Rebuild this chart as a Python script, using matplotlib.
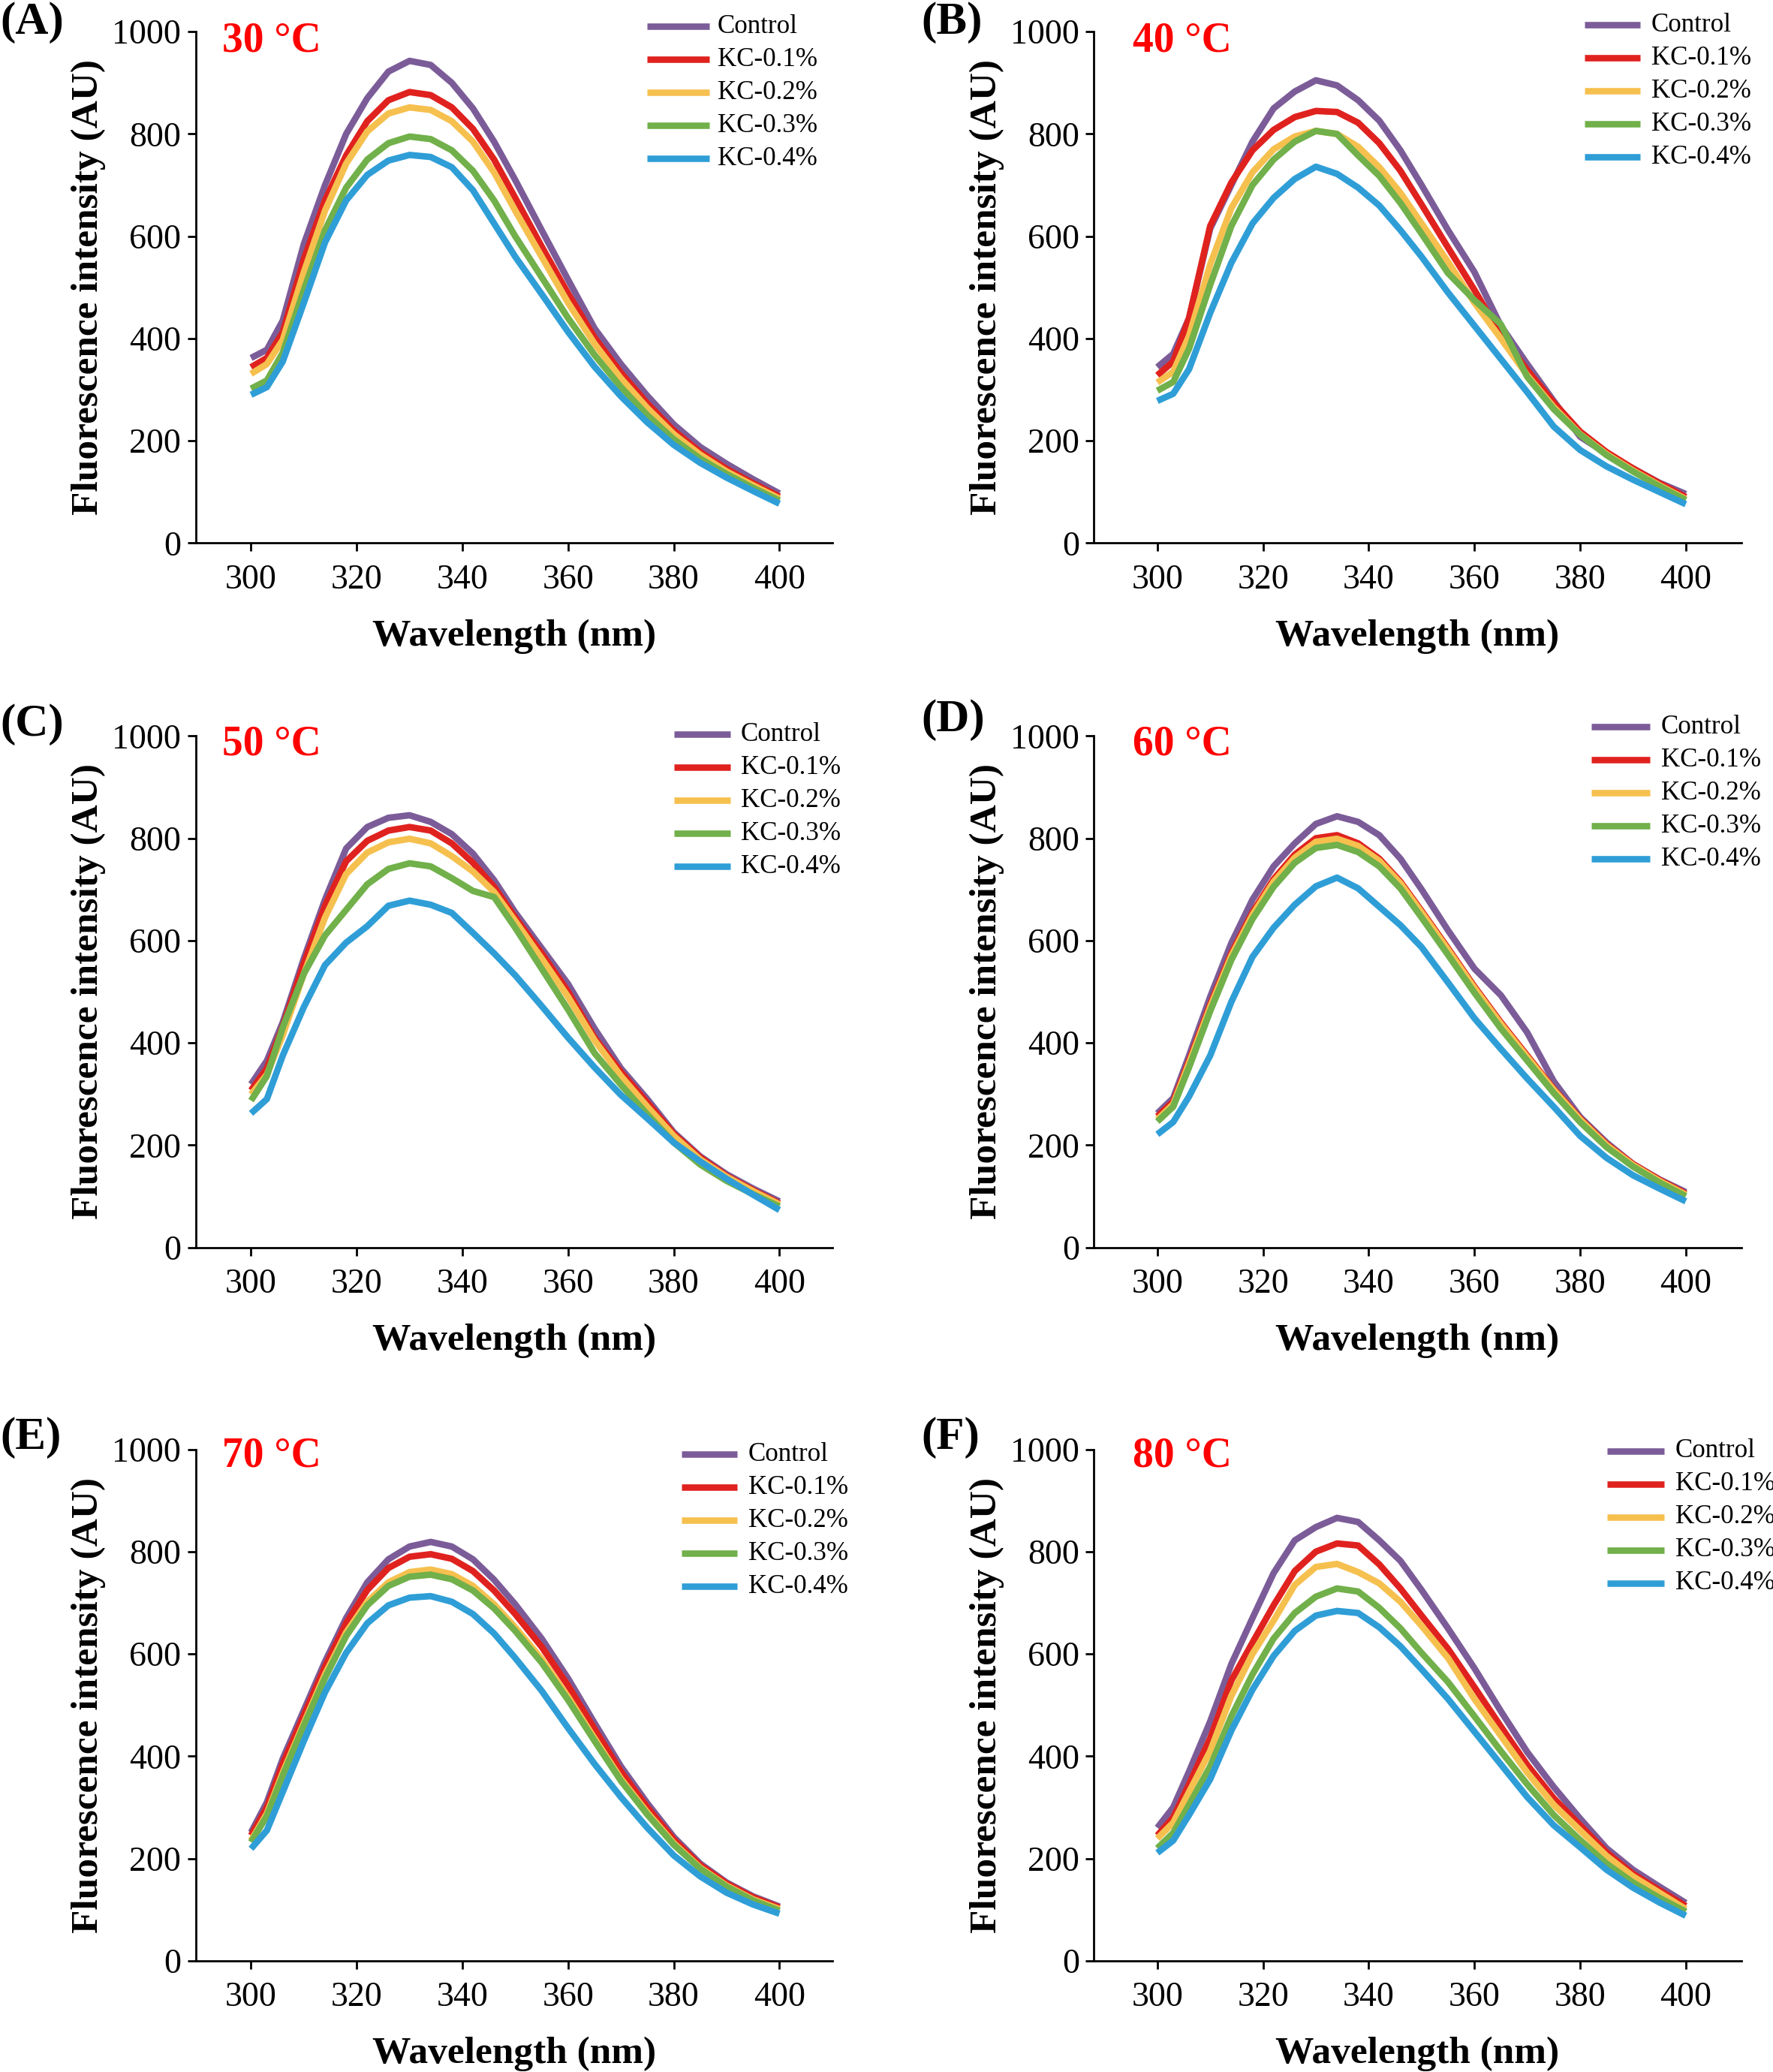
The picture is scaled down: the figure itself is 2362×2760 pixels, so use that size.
import matplotlib.pyplot as plt

plt.rcParams['font.family'] = ['Liberation Serif', 'DejaVu Serif']

# wavelengths (nm) at which the curves were read
wavelength = [300, 303, 306, 310, 314, 318, 322, 326, 330, 334, 338, 342,
              346, 350, 355, 360, 365, 370, 375, 380, 385, 390, 395, 400]

# 30 °C
ctrl_30 = [362, 378, 435, 585, 700, 800, 870, 922, 943, 935, 900, 850, 785, 710, 612, 515, 420, 350, 288, 232, 188, 155, 125, 97]
kc1_30 = [344, 362, 412, 555, 670, 758, 825, 866, 882, 876, 852, 810, 750, 675, 580, 488, 402, 333, 273, 220, 178, 145, 117, 91]
kc2_30 = [331, 350, 397, 530, 650, 742, 805, 840, 852, 847, 825, 785, 725, 650, 560, 470, 390, 322, 264, 213, 173, 140, 113, 87]
kc3_30 = [302, 318, 372, 495, 612, 695, 750, 782, 795, 790, 768, 728, 670, 600, 520, 440, 368, 305, 250, 203, 165, 135, 108, 83]
kc4_30 = [290, 305, 355, 470, 588, 670, 720, 748, 759, 755, 735, 690, 625, 560, 487, 413, 345, 287, 236, 192, 157, 128, 102, 77]

# 40 °C
ctrl_40 = [344, 370, 440, 615, 700, 785, 850, 883, 905, 895, 866, 826, 768, 700, 612, 530, 425, 350, 278, 208, 175, 146, 118, 96]
kc1_40 = [328, 355, 440, 620, 705, 768, 808, 833, 845, 843, 822, 782, 728, 662, 578, 495, 408, 338, 275, 218, 178, 146, 117, 90]
kc2_40 = [314, 335, 405, 545, 655, 725, 770, 795, 806, 800, 775, 735, 685, 625, 550, 470, 400, 328, 266, 213, 174, 142, 113, 86]
kc3_40 = [298, 315, 380, 505, 620, 700, 750, 785, 806, 800, 758, 718, 665, 605, 528, 475, 428, 325, 262, 212, 172, 140, 111, 84]
kc4_40 = [278, 292, 340, 450, 548, 625, 675, 712, 736, 722, 695, 660, 612, 560, 490, 425, 360, 295, 228, 182, 150, 124, 100, 76]

# 50 °C
ctrl_50 = [319, 365, 440, 565, 680, 780, 822, 840, 845, 832, 808, 770, 718, 655, 585, 515, 428, 350, 290, 225, 178, 143, 115, 90]
kc1_50 = [307, 350, 432, 555, 668, 755, 795, 815, 822, 815, 790, 752, 705, 645, 575, 500, 410, 343, 283, 222, 176, 140, 112, 86]
kc2_50 = [299, 338, 415, 535, 645, 730, 772, 792, 799, 790, 765, 735, 695, 638, 565, 490, 405, 335, 275, 218, 172, 138, 110, 84]
kc3_50 = [287, 335, 430, 535, 610, 660, 710, 740, 751, 745, 722, 697, 685, 625, 545, 465, 380, 318, 260, 205, 162, 130, 104, 80]
kc4_50 = [262, 290, 375, 470, 552, 596, 628, 668, 678, 670, 654, 615, 575, 532, 472, 410, 352, 298, 252, 205, 168, 134, 103, 73]

# 60 °C
ctrl_60 = [262, 292, 375, 490, 595, 680, 745, 790, 828, 843, 832, 806, 760, 700, 620, 545, 493, 420, 325, 255, 205, 163, 133, 108]
kc1_60 = [256, 285, 365, 475, 575, 655, 720, 768, 800, 806, 790, 760, 715, 658, 585, 510, 440, 375, 310, 252, 202, 163, 132, 105]
kc2_60 = [250, 280, 360, 470, 570, 650, 715, 762, 793, 799, 785, 756, 712, 655, 582, 507, 437, 372, 308, 250, 200, 161, 130, 103]
kc3_60 = [246, 275, 352, 462, 562, 642, 705, 752, 781, 787, 773, 745, 702, 645, 572, 498, 428, 365, 302, 245, 196, 158, 127, 100]
kc4_60 = [221, 245, 295, 375, 480, 568, 625, 670, 706, 723, 702, 666, 630, 587, 518, 448, 388, 330, 275, 218, 175, 141, 115, 90]

# 70 °C
ctrl_70 = [251, 310, 395, 490, 585, 670, 740, 785, 810, 819, 810, 785, 745, 697, 630, 552, 465, 380, 308, 242, 190, 153, 126, 106]
kc1_70 = [245, 300, 385, 480, 575, 660, 725, 768, 790, 795, 786, 762, 724, 678, 614, 538, 453, 370, 300, 237, 187, 151, 124, 104]
kc2_70 = [235, 288, 368, 465, 560, 642, 702, 740, 760, 765, 756, 733, 697, 652, 590, 516, 435, 356, 290, 230, 182, 147, 120, 101]
kc3_70 = [232, 283, 362, 460, 553, 635, 695, 733, 751, 755, 746, 724, 689, 645, 583, 510, 430, 352, 286, 227, 180, 145, 118, 98]
kc4_70 = [219, 255, 330, 430, 525, 602, 660, 695, 710, 713, 702, 678, 640, 592, 528, 455, 385, 320, 260, 206, 165, 133, 110, 92]

# 80 °C
ctrl_80 = [260, 300, 370, 468, 580, 670, 758, 822, 848, 866, 858, 822, 782, 725, 650, 572, 488, 408, 340, 278, 220, 178, 145, 113]
kc1_80 = [245, 280, 345, 435, 548, 622, 695, 762, 800, 816, 812, 775, 728, 675, 610, 535, 458, 383, 318, 265, 212, 170, 138, 107]
kc2_80 = [239, 270, 330, 410, 518, 600, 665, 735, 770, 776, 760, 738, 702, 655, 592, 512, 440, 368, 305, 255, 205, 165, 133, 101]
kc3_80 = [220, 250, 305, 380, 478, 560, 630, 680, 712, 728, 722, 690, 650, 602, 545, 478, 410, 345, 285, 236, 190, 153, 123, 96]
kc4_80 = [211, 235, 285, 355, 450, 530, 596, 645, 675, 684, 680, 652, 615, 570, 512, 448, 384, 320, 265, 222, 178, 143, 114, 88]

labels = ['Control', 'KC-0.1%', 'KC-0.2%', 'KC-0.3%', 'KC-0.4%']
colors = ['#7B5C98', '#E0221F', '#F6C04F', '#71B04A', '#2F9ED7']
temps = ['30 °C', '40 °C', '50 °C', '60 °C', '70 °C', '80 °C']
tags = ['(A)', '(B)', '(C)', '(D)', '(E)', '(F)']
xticks = [300, 320, 340, 360, 380, 400]
yticks = [0, 200, 400, 600, 800, 1000]

series = [
    [ctrl_30, kc1_30, kc2_30, kc3_30, kc4_30],
    [ctrl_40, kc1_40, kc2_40, kc3_40, kc4_40],
    [ctrl_50, kc1_50, kc2_50, kc3_50, kc4_50],
    [ctrl_60, kc1_60, kc2_60, kc3_60, kc4_60],
    [ctrl_70, kc1_70, kc2_70, kc3_70, kc4_70],
    [ctrl_80, kc1_80, kc2_80, kc3_80, kc4_80],
]

# layout (figure fractions)
col_left = [0.1103, 0.617]
col_width = [0.3591, 0.3651]
col_xlim = [(289.5, 410), (288, 410.5)]
row_bottom = [0.7379, 0.398, 0.0537]
row_h = 0.2468
# legend: line start, line end, text x, first row y (axes fraction)
leg_pos = [(0.7095, 0.807, 0.820, 1.010),
           (0.758, 0.844, 0.861, 1.013),
           (0.751, 0.840, 0.856, 1.003),
           (0.768, 0.859, 0.876, 1.018),
           (0.763, 0.851, 0.868, 0.990),
           (0.793, 0.881, 0.898, 0.997)]
leg_step = 0.0646
temp_pos = [(0.0415, 0.982), (0.0594, 0.982), (0.0415, 0.984),
            (0.0594, 0.984), (0.0415, 0.987), (0.0594, 0.987)]
tag_pos = [(0.0, 0.989), (0.5195, 0.989), (0.0, 0.6505),
           (0.5195, 0.6525), (0.0, 0.306), (0.5195, 0.306)]

LW = 3.1

fig = plt.figure(figsize=(11.81, 13.8), dpi=200)

for i in range(6):
    row, col = i // 2, i % 2
    ax = fig.add_axes([col_left[col], row_bottom[row], col_width[col], row_h])
    for ys, c in zip(series[i], colors):
        ax.plot(wavelength, ys, color=c, lw=LW, solid_capstyle='butt',
                solid_joinstyle='round')
    ax.set_xlim(*col_xlim[col])
    ax.set_ylim(0, 1000)
    ax.set_xticks(xticks)
    ax.set_yticks(yticks)
    ax.spines['top'].set_visible(False)
    ax.spines['right'].set_visible(False)
    for s in ['left', 'bottom']:
        ax.spines[s].set_linewidth(1.0)
    ax.tick_params(axis='both', direction='out', length=4, width=1.0,
                   labelsize=16.5)
    ax.tick_params(axis='x', pad=6)
    ax.tick_params(axis='y', pad=3)
    ax.set_xlabel('Wavelength (nm)', fontsize=18.5, fontweight='bold',
                  labelpad=11)
    ax.set_ylabel('Fluorescence intensity (AU)', fontsize=18.5,
                  fontweight='bold', labelpad=3)

    # temperature tag
    tx, ty = temp_pos[i]
    ax.text(tx, ty, temps[i], transform=ax.transAxes, color='red',
            fontsize=20, fontweight='bold', va='center', ha='left')

    # legend drawn by hand to match spacing
    x0, x1, xt, y0 = leg_pos[i]
    for k, (lab, c) in enumerate(zip(labels, colors)):
        yy = y0 - k * leg_step
        ax.plot([x0, x1], [yy, yy], transform=ax.transAxes, color=c,
                lw=LW, solid_capstyle='butt', clip_on=False)
        ax.text(xt, yy, lab, transform=ax.transAxes, fontsize=12.6,
                va='center', ha='left')

    gx, gy = tag_pos[i]
    fig.text(gx, gy, tags[i], fontsize=22, fontweight='bold',
             va='center', ha='left')

fig.savefig('out.png', dpi=200)
